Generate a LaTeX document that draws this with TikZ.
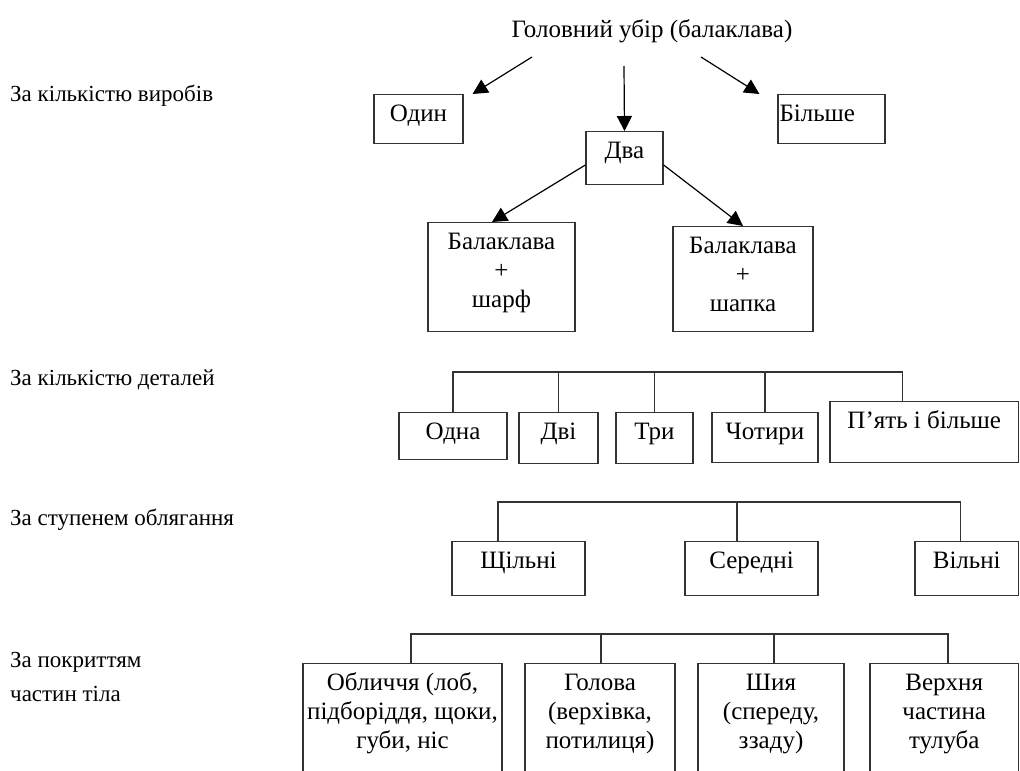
\documentclass[tikz,border=0pt]{standalone}
\usepackage{fontspec}
\setmainfont{Liberation Serif}
\usetikzlibrary{arrows.meta}
\tikzset{
  catbox/.style={draw=black!80, line width=1.1pt, anchor=north, align=center,
    inner xsep=2pt, inner ysep=10pt, text height=16.5pt,
    font=\fontsize{25}{29}\selectfont},
  arr/.style={line width=1.2pt, -{Triangle[length=15pt,width=15pt]}},
  link/.style={draw=black!80, line width=1.1pt},
  sidelabel/.style={anchor=base west, inner sep=0pt, font=\fontsize{23}{29}\selectfont}
}
% box from (x1,y1) to (x2,y2), text hung from the top edge
\newcommand{\catbox}[7][]{%
  \pgfmathsetmacro\cbw{#4-#2}%
  \pgfmathsetmacro\cbd{#5-#3-36.5}%
  \pgfmathsetmacro\cbx{(#2+#4)/2}%
  \node[catbox, minimum width=\cbw pt, text depth=\cbd pt, #1] (#6) at (\cbx,#3) {#7};}
% same, for three lines of text
\newcommand{\catboxiii}[7][]{%
  \pgfmathsetmacro\cbw{#4-#2}%
  \pgfmathsetmacro\cbd{#5-#3-94.5}%
  \pgfmathsetmacro\cbx{(#2+#4)/2}%
  \node[catbox, minimum width=\cbw pt, text height=74.5pt, text depth=\cbd pt, #1] (#6) at (\cbx,#3) {#7};}

\begin{document}
\begin{tikzpicture}[x=1pt,y=-1pt]
\useasboundingbox (0,0) rectangle (1020,771);
% title
\node[font=\fontsize{25}{29}\selectfont, anchor=base, inner sep=0pt] (title) at (652,37) {Головний убір (балаклава)};
% side labels
\node[sidelabel] (labItems) at (10,101) {За кількістю виробів};
\node[sidelabel] (labParts) at (10,385) {За кількістю деталей};
\node[sidelabel] (labFit) at (10,525) {За ступенем облягання};
\node[sidelabel] (labCover) at (10,667) {За покриттям};
\node[sidelabel] (labCoverB) at (10,701) {частин тіла};
% row 1: number of items
\catbox{374}{94}{463}{143}{odyn}{Один}
\catbox{586}{131}{663}{184}{dva}{Два}
\catbox[text width=104pt, align=left, inner xsep=1.5pt]{778}{94}{885}{143}{bilshe}{Більше}
\catboxiii{428}{222}{575}{331}{sharf}{Балаклава\\+\\шарф}
\catboxiii{673}{226}{813}{331}{shapka}{Балаклава\\+\\шапка}
% arrows
\coordinate (fromL) at (532,57);
\coordinate (fromM) at (624,66);
\coordinate (fromR) at (701,57);
\draw[arr] (fromL) -- ([xshift=9pt]odyn.north east);
\draw[arr] (fromM) -- (dva.north);
\draw[arr] (fromR) -- ([xshift=-18pt]bilshe.north west);
\draw[arr] (dva.190) -- ([xshift=-9.5pt]sharf.north);
\draw[arr] (dva.350) -- (shapka.north);
% row 2: number of parts
\catbox{399}{412}{507}{459}{odna}{Одна}
\catbox{519}{412}{598}{463}{dvi}{Дві}
\catbox{616}{412}{693}{463}{try}{Три}
\catbox{712}{412}{818}{462}{chotyry}{Чотири}
\catbox{830}{401}{1018.5}{462}{pyat}{П’ять і більше}
\coordinate (busA) at (0,372);
\coordinate (pyatTop) at ([xshift=73pt]pyat.north west);
\draw[link] (odna.north) |- (pyatTop |- busA) -- (pyatTop);
\foreach \n in {dvi,try,chotyry}
  \draw[link] (\n.north) -- (\n.north |- busA);
% row 3: fit
\catbox{452}{541}{585}{595}{shchilni}{Щільні}
\catbox{685}{541}{818}{595}{seredni}{Середні}
\catbox{915}{541}{1018.5}{595}{vilni}{Вільні}
\coordinate (busB) at (0,502);
\coordinate (shchilniTop) at ([xshift=-20.5pt]shchilni.north);
\coordinate (seredniTop) at ([xshift=-14.5pt]seredni.north);
\coordinate (vilniTop) at ([xshift=-6pt]vilni.north);
\draw[link] (shchilniTop) |- (vilniTop |- busB) -- (vilniTop);
\draw[link] (seredniTop) -- (seredniTop |- busB);
% row 4: body coverage
\catboxiii{303}{663}{502}{800}{oblychchia}{Обличчя (лоб,\\підборіддя, щоки,\\губи, ніс}
\catboxiii{525}{663}{675}{800}{holova}{Голова\\(верхівка,\\потилиця)}
\catboxiii{698}{663}{844}{800}{shyia}{Шия\\(спереду,\\ззаду)}
\catboxiii{870}{663}{1018.5}{800}{tuluba}{Верхня\\частина\\тулуба}
\coordinate (busC) at (0,634);
\coordinate (oblychchiaTop) at ([xshift=8.5pt]oblychchia.north);
\coordinate (tulubaTop) at ([xshift=3.75pt]tuluba.north);
\draw[link] (oblychchiaTop) |- (tulubaTop |- busC) -- (tulubaTop);
\draw[link] ([xshift=1pt]holova.north) -- ([xshift=1pt]holova.north |- busC);
\draw[link] ([xshift=3pt]shyia.north) -- ([xshift=3pt]shyia.north |- busC);
\end{tikzpicture}
\end{document}
